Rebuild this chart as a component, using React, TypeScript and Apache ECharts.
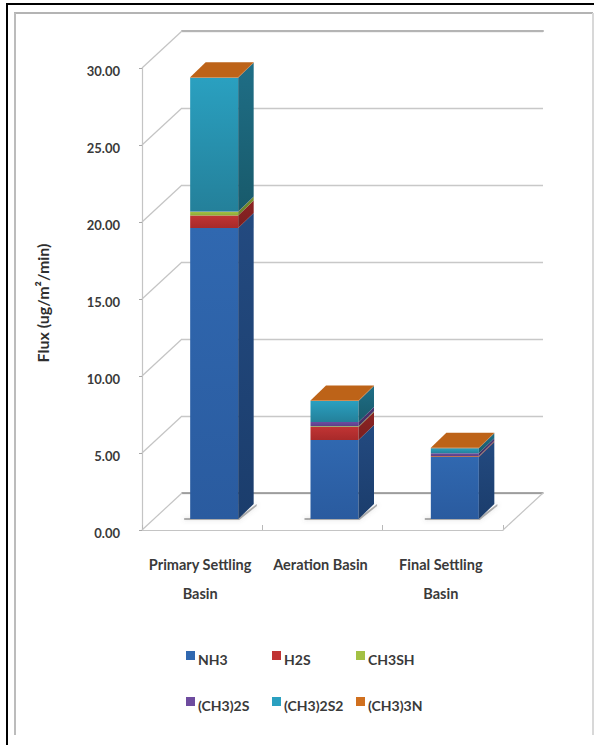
import React, { useEffect, useRef } from "react";
import * as echarts from "echarts";

const categories = ["Primary Settling\nBasin", "Aeration Basin", "Final Settling\nBasin"];
const yTicks = [0, 5, 10, 15, 20, 25, 30];

const NH3 = [18.9, 5.13, 4.03];
const H2S = [0.8, 0.84, 0.04];
const CH3SH = [0.25, 0.05, 0.02];
const CH3_2S = [0.02, 0.28, 0.18];
const CH3_2S2 = [8.68, 1.36, 0.33];
const CH3_3N = [0.03, 0.03, 0.02];

const speciesNames = ["NH3", "H2S", "CH3SH", "(CH3)2S", "(CH3)2S2", "(CH3)3N"];
const speciesValues = [NH3, H2S, CH3SH, CH3_2S, CH3_2S2, CH3_3N];
const frontTop = ["#3068b0", "#c03434", "#a3c144", "#6e4c9f", "#2aa0c0", "#d0701f"];
const frontBottom = ["#2a5b9f", "#a82a2a", "#8aa836", "#5c3f88", "#24809a", "#b85f18"];
const sideTop = ["#234a80", "#8c2424", "#76902e", "#4c3570", "#1f6e86", "#a35414"];
const sideBottom = ["#1b3d6c", "#7a1f1f", "#65802a", "#432e62", "#185a6b", "#a35414"];
const topFace = "#bd6318";

const FRAME = { left: 142, right: 503, top: 68, bottom: 530 };
const BACK = { left: 182, right: 543, top: 31, bottom: 493 };
const BAR_WIDTH = 48;
const BAR_SHIFT = [12, -11];
const DEPTH = [15.5, -15];

function shapeOf(points: number[][], fill: any) {
  return { type: "polygon", shape: { points }, style: { fill } };
}

function vertical(a: string, b: string) {
  return new echarts.graphic.LinearGradient(0, 0, 0, 1, [
    { offset: 0, color: a },
    { offset: 1, color: b },
  ]);
}

// One stacked segment of a 3D bar: front and side faces, plus the lid on the last segment.
function segmentRenderer(index: number) {
  return (_params: any, api: any) => {
    const cat = api.value(0);
    const low = api.coord([cat, api.value(1)]);
    const high = api.coord([cat, api.value(2)]);
    const x0 = low[0] + BAR_SHIFT[0] - BAR_WIDTH / 2;
    const x1 = x0 + BAR_WIDTH;
    const yLow = low[1] + BAR_SHIFT[1];
    const yHigh = high[1] + BAR_SHIFT[1];
    const [dx, dy] = DEPTH;
    const children: any[] = [];
    if (index === 0) {
      // soft contact shadow on the floor
      children.push({
        type: "polygon",
        shape: {
          points: [
            [x0 - 6, yLow - 1],
            [x1, yLow - 1],
            [x1 + dx + 3, yLow + dy],
            [x1 + dx + 3, yLow + dy + 2],
            [x1 + 1, yLow + 1],
            [x0 - 6, yLow + 1],
          ],
        },
        style: { fill: "rgba(100,100,100,0.5)", shadowBlur: 4, shadowColor: "rgba(100,100,100,0.5)" },
      });
    }
    children.push(shapeOf([[x0, yLow], [x1, yLow], [x1, yHigh], [x0, yHigh]], vertical(frontTop[index], frontBottom[index])));
    children.push(
      shapeOf(
        [[x1, yLow], [x1 + dx, yLow + dy], [x1 + dx, yHigh + dy], [x1, yHigh]],
        vertical(sideTop[index], sideBottom[index])
      )
    );
    if (index === speciesNames.length - 1) {
      children.push(shapeOf([[x0, yHigh], [x1, yHigh], [x1 + dx, yHigh + dy], [x0 + dx, yHigh + dy]], topFace));
    }
    return { type: "group", children };
  };
}

// Slanted wall lines joining each front tick to the back wall, and the floor outline.
function wallRenderer(_params: any, api: any) {
  const p = api.coord([0, api.value(0)]);
  const y = p[1];
  const isFloor = api.value(0) === 0;
  const line = (x1: number, y1: number, x2: number, y2: number, stroke: string, lineWidth: number) => ({
    type: "line",
    shape: { x1, y1, x2, y2 },
    style: { stroke, lineWidth },
  });
  const children: any[] = [line(FRAME.left, y, BACK.left, y - 37, "#c4c4c4", 1.2)];
  if (isFloor) {
    children.push(line(FRAME.right, y, BACK.right, y - 37, "#c4c4c4", 1.2));
  }
  return { type: "group", children };
}

export default function App() {
  const ref = useRef<HTMLDivElement>(null);

  useEffect(() => {
    const chart = echarts.init(ref.current!, undefined, { renderer: "svg" });
    const font = "Lato";
    const stacks = speciesValues.map((values, s) =>
      values.map((v, c) => {
        let base = 0;
        for (let k = 0; k < s; k++) base += speciesValues[k][c];
        return [c, base, base + v];
      })
    );
    const legendBase = {
      orient: "vertical",
      icon: "rect",
      itemWidth: 9,
      itemHeight: 9,
      itemGap: 31,
      formatter: "{t|{name}}",
      textStyle: {
        rich: {
          t: { fontFamily: font, fontSize: 14, fontWeight: "bold", color: "#3a3a3a", padding: [7, 0, 0, -2] },
        },
      },
      selectedMode: false,
    };
    chart.setOption({
      animation: false,
      backgroundColor: "#ffffff",
      grid: [
        { left: FRAME.left, top: FRAME.top, width: FRAME.right - FRAME.left, height: FRAME.bottom - FRAME.top },
        { left: BACK.left, top: BACK.top, width: BACK.right - BACK.left, height: BACK.bottom - BACK.top },
      ],
      xAxis: [
        {
          type: "category",
          gridIndex: 0,
          data: categories,
          axisLine: { lineStyle: { color: "#c4c4c4", width: 1.2 } },
          axisTick: { show: true, length: 5, inside: true, lineStyle: { color: "#b8b8b8" } },
          axisLabel: {
            fontFamily: font,
            fontSize: 14.5,
            fontWeight: "bold",
            color: "#3a3a3a",
            lineHeight: 29,
            margin: 20,
            interval: 0,
            padding: [0, 4, 0, 0],
          },
        },
        {
          type: "category",
          gridIndex: 1,
          data: categories,
          axisLine: { show: true, lineStyle: { color: "#8f8f8f", width: 1.5 } },
          axisTick: { show: false },
          axisLabel: { show: false },
        },
        {
          // heavier rule along the top of the back wall
          type: "category",
          gridIndex: 1,
          position: "top",
          data: categories,
          axisLine: { show: true, lineStyle: { color: "#b4b4b4", width: 2 } },
          axisTick: { show: false },
          axisLabel: { show: false },
        },
      ],
      yAxis: [
        {
          type: "value",
          gridIndex: 0,
          min: 0,
          max: 30,
          interval: 5,
          name: "Flux (ug/m²/min)",
          nameLocation: "middle",
          nameRotate: 90,
          nameGap: 92,
          nameTextStyle: { fontFamily: font, fontSize: 16, fontWeight: "bold", color: "#2e2e2e", padding: [0, 8, 0, 0] },
          axisLine: { show: true, lineStyle: { color: "#c4c4c4", width: 1.2 } },
          axisTick: { show: true, length: 3, lineStyle: { color: "#a8a8a8" } },
          axisLabel: {
            fontFamily: font,
            fontSize: 13,
            fontWeight: "bold",
            color: "#3a3a3a",
            margin: 22,
            verticalAlign: "top",
            lineHeight: 6,
            formatter: (v: number) => v.toFixed(2),
          },
          splitLine: { show: false },
        },
        {
          type: "value",
          gridIndex: 1,
          min: 0,
          max: 30,
          interval: 5,
          axisLine: { show: false },
          axisTick: { show: false },
          axisLabel: { show: false },
          splitLine: { show: true, lineStyle: { color: "#c8c8c8", width: 1.3 } },
        },
      ],
      legend: [
        { ...legendBase, left: 181, top: 646, data: [speciesNames[0], speciesNames[3]] },
        { ...legendBase, left: 267, top: 646, data: [speciesNames[1], speciesNames[4]] },
        { ...legendBase, left: 351, top: 646, data: [speciesNames[2], speciesNames[5]] },
      ],
      series: [
        {
          type: "custom",
          name: "walls",
          xAxisIndex: 0,
          yAxisIndex: 0,
          coordinateSystem: "cartesian2d",
          renderItem: wallRenderer,
          data: yTicks.map((t) => [t]),
          encode: { y: 0 },
          z: 1,
          silent: true,
        },
        ...speciesNames.map((name, s) => ({
          type: "custom",
          name,
          xAxisIndex: 0,
          yAxisIndex: 0,
          coordinateSystem: "cartesian2d",
          renderItem: segmentRenderer(s),
          data: stacks[s],
          encode: { x: 0, y: [1, 2] },
          itemStyle: { color: frontTop[s] },
          z: 5,
          clip: false,
        })),
      ],
      graphic: [
        { type: "line", silent: true, shape: { x1: 7, y1: 4, x2: 594, y2: 4 }, style: { stroke: "#000", lineWidth: 2 } },
        { type: "line", silent: true, shape: { x1: 7, y1: 3, x2: 7, y2: 745 }, style: { stroke: "#000", lineWidth: 2 } },
        { type: "line", silent: true, shape: { x1: 14, y1: 13, x2: 593, y2: 13 }, style: { stroke: "#b4b4b4", lineWidth: 2 } },
        { type: "line", silent: true, shape: { x1: 15, y1: 13, x2: 15, y2: 735 }, style: { stroke: "#bcbcbc", lineWidth: 2 } },
        { type: "line", silent: true, shape: { x1: 593, y1: 13, x2: 593, y2: 735 }, style: { stroke: "#d8d8d8", lineWidth: 2 } },
      ],
    });
    return () => chart.dispose();
  }, []);

  return <div ref={ref} style={{ position: "absolute", left: 0, top: 0, width: 594, height: 745 }} />;
}
